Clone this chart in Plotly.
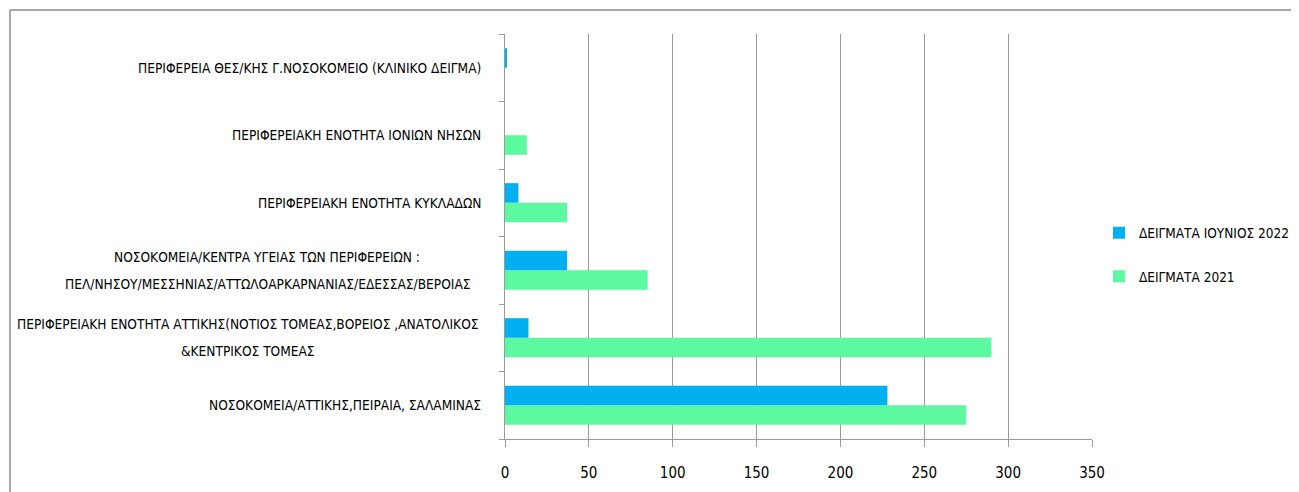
import plotly.graph_objects as go

# κατηγορίες (από κάτω προς τα πάνω, όπως στο γράφημα)
categories = [
    ['ΝΟΣΟΚΟΜΕΙΑ/ΑΤΤΙΚΗΣ,ΠΕΙΡΑΙΑ, ΣΑΛΑΜΙΝΑΣ'],
    ['ΠΕΡΙΦΕΡΕΙΑΚΗ ΕΝΟΤΗΤΑ ΑΤΤΙΚΗΣ(ΝΟΤΙΟΣ ΤΟΜΕΑΣ,ΒΟΡΕΙΟΣ ,ΑΝΑΤΟΛΙΚΟΣ',
     '&ΚΕΝΤΡΙΚΟΣ ΤΟΜΕΑΣ'],
    ['ΝΟΣΟΚΟΜΕΙΑ/ΚΕΝΤΡΑ ΥΓΕΙΑΣ ΤΩΝ ΠΕΡΙΦΕΡΕΙΩΝ :',
     'ΠΕΛ/ΝΗΣΟΥ/ΜΕΣΣΗΝΙΑΣ/ΑΤΤΩΛΟΑΡΚΑΡΝΑΝΙΑΣ/ΕΔΕΣΣΑΣ/ΒΕΡΟΙΑΣ'],
    ['ΠΕΡΙΦΕΡΕΙΑΚΗ ΕΝΟΤΗΤΑ ΚΥΚΛΑΔΩΝ'],
    ['ΠΕΡΙΦΕΡΕΙΑΚΗ ΕΝΟΤΗΤΑ ΙΟΝΙΩΝ ΝΗΣΩΝ'],
    ['ΠΕΡΙΦΕΡΕΙΑ ΘΕΣ/ΚΗΣ Γ.ΝΟΣΟΚΟΜΕΙΟ (ΚΛΙΝΙΚΟ ΔΕΙΓΜΑ)'],
]
ids = ['c0', 'c1', 'c2', 'c3', 'c4', 'c5']

samples_june_2022 = [228, 14, 37, 8, None, 1]
samples_2021 = [275, 290, 85, 37, 13, None]

x_ticks = [0, 50, 100, 150, 200, 250, 300, 350]

FONT = 'Liberation Sans Narrow, DejaVu Sans Condensed, Arial Narrow, sans-serif'
GRID = '#9a9a9a'
LBL = 13.6

# η σελίδα έχει 8px περιθώριο στο body
W, H = 1291, 484
ML, MR, MT, MB = 497, 207, 26, 53
pw = W - ML - MR
ph = H - MT - MB

# κέντρο (px) για τις ετικέτες δύο γραμμών
wrap_center = {'c1': 239.5, 'c2': 259}

fig = go.Figure()

fig.add_trace(go.Bar(
    y=ids, x=samples_2021, orientation='h',
    name='ΔΕΙΓΜΑΤΑ 2021', legendgroup='b', legendrank=2,
    marker=dict(color='#5CF9A0', line=dict(width=0)),
))
fig.add_trace(go.Bar(
    y=ids, x=samples_june_2022, orientation='h',
    name='ΔΕΙΓΜΑΤΑ ΙΟΥΝΙΟΣ 2022', legendgroup='a', legendrank=1,
    marker=dict(color='#00B0F0', line=dict(width=0)),
))

# ετικέτες κατηγοριών
for cid, lines in zip(ids, categories):
    if len(lines) == 1:
        fig.add_annotation(
            x=0, xref='paper', xanchor='right', xshift=-22,
            y=cid, yref='y', yanchor='middle',
            text=lines[0], showarrow=False,
            font=dict(family=FONT, size=LBL, color='#000000'),
        )
    else:
        cx = (wrap_center[cid] - ML) / pw
        for text, ys in zip(lines, [13.5, -13.5]):
            fig.add_annotation(
                x=cx, xref='paper', xanchor='center',
                y=cid, yref='y', yanchor='middle', yshift=ys,
                text=text, showarrow=False,
                font=dict(family=FONT, size=LBL, color='#000000'),
            )

# εξωτερικό πλαίσιο
bx = (2 - ML) / pw
by = (H - MB - 2) / ph
fig.add_shape(type='line', xref='paper', yref='paper',
              x0=bx, x1=bx, y0=-MB / ph, y1=by,
              line=dict(color='#8c8c8c', width=1.5))
fig.add_shape(type='line', xref='paper', yref='paper',
              x0=bx, x1=(W - ML) / pw, y0=by, y1=by,
              line=dict(color='#8c8c8c', width=1.5))

fig.update_layout(
    width=W, height=H,
    margin=dict(l=ML, r=MR, t=MT, b=MB, autoexpand=False),
    plot_bgcolor='white', paper_bgcolor='white',
    barmode='group', bargap=0.42, bargroupgap=0,
    font=dict(family=FONT, size=LBL, color='#000000'),
    showlegend=True,
    legend=dict(
        x=(1091 - ML) / pw, y=(H - MB - 247) / ph,
        xanchor='left', yanchor='middle',
        traceorder='grouped', tracegroupgap=23,
        font=dict(family=FONT, size=13.5),
        itemwidth=30,
    ),
    xaxis=dict(
        range=[0, 350], tickvals=x_ticks, automargin=False,
        showgrid=True, gridcolor=GRID, gridwidth=1,
        showline=True, linecolor=GRID, linewidth=1,
        ticks='outside', ticklen=7, tickcolor=GRID,
        ticklabelstandoff=13,
        zeroline=False,
        tickfont=dict(family=FONT, size=15),
    ),
    yaxis=dict(
        categoryorder='array', categoryarray=ids, automargin=False,
        showticklabels=False,
        showline=True, linecolor=GRID, linewidth=1,
        ticks='outside', ticklen=5, tickcolor=GRID,
        tickson='boundaries', showgrid=False,
    ),
)

fig.write_html('out.html')
